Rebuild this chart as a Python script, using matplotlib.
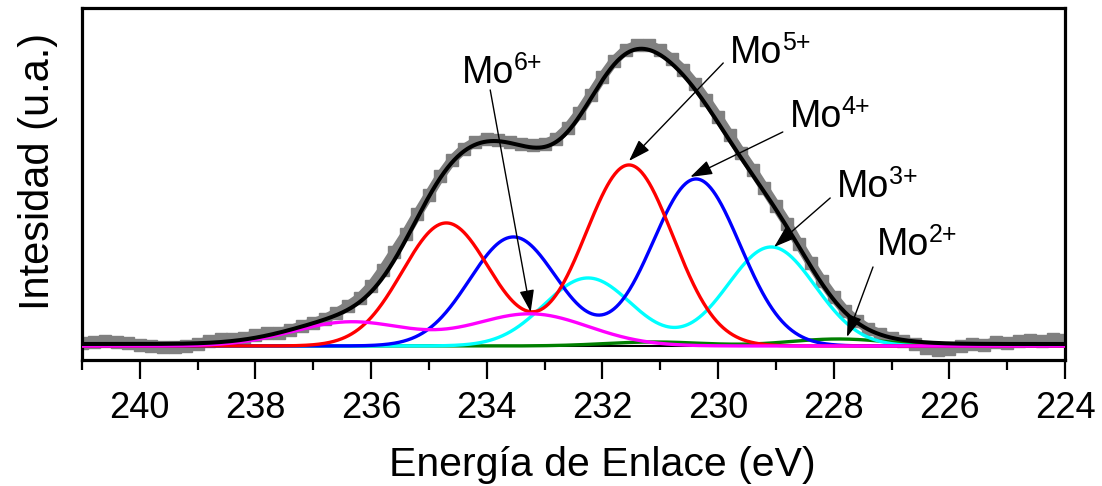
import matplotlib
matplotlib.use("Agg")
import matplotlib.pyplot as plt
import numpy as np

plt.rcParams['font.family'] = ['Liberation Sans', 'DejaVu Sans']

# espectro medido (Mo 3d), paso de 0.2 eV de 241 a 224 eV
energia = np.round(np.arange(241.0, 223.9, -0.2), 2)
intensidad = [3, 4, 5, 4, 3, 1, 0, -1, -1, 0,
              2, 5, 7, 7, 8, 11, 13, 13, 16, 20,
              23, 27, 33, 40, 48, 60, 76, 94, 112, 132,
              151, 170, 186, 197, 204, 207, 206, 204, 202, 201,
              202, 207, 218, 233, 251, 269, 285, 296, 301, 301,
              296, 287, 276, 262, 246, 229, 211, 193, 176, 158,
              140, 122, 102, 83, 65, 49, 35, 25, 17, 12,
              8, 5, 2, -2, -4, -3, 0, 2, 1, 4,
              3, 5, 6, 5, 7, 6]

# componentes del ajuste: centros (eV), alturas y sigma de cada doblete
mo6_pos = [233.24, 236.36]; mo6_amp = [32, 24]; mo6_sig = 1.0
mo5_pos = [231.54, 234.70]; mo5_amp = [181, 123]; mo5_sig = 0.76
mo4_pos = [230.38, 233.54]; mo4_amp = [167, 109]; mo4_sig = 0.76
mo3_pos = [229.08, 232.25]; mo3_amp = [99, 68]; mo3_sig = 0.76
mo2_pos = [227.92, 231.10]; mo2_amp = [7, 4]; mo2_sig = 0.85
fondo = 2

# etiquetas: carga, inicio de la flecha y posicion del texto (eV, intensidad)
cargas = ['6+', '5+', '4+', '3+', '2+']
flecha_ini = [(233.94, 256), (229.91, 283), (228.88, 214), (228.06, 148), (227.32, 79)]
texto_pos = [(234.43, 263), (229.79, 283), (228.76, 219), (227.94, 149), (227.25, 91)]


def doblete(x, pos, amp, sig):
    return sum(a * np.exp(-(x - p) ** 2 / (2 * sig ** 2)) for p, a in zip(pos, amp))


E = np.linspace(241, 224, 1200)
comps = [
    (mo2_pos, mo2_amp, mo2_sig, '#007f00'),
    (mo3_pos, mo3_amp, mo3_sig, '#00ffff'),
    (mo4_pos, mo4_amp, mo4_sig, '#0000ff'),
    (mo5_pos, mo5_amp, mo5_sig, '#ff0000'),
    (mo6_pos, mo6_amp, mo6_sig, '#ff00ff'),
]

fig = plt.figure(figsize=(11.02, 4.86), dpi=100)
ax = fig.add_axes([0.0744, 0.2593, 0.892, 0.7243])

# datos experimentales
ax.plot(energia, intensidad, color='#808080', lw=7, marker='s', ms=8,
        mec='#808080', mfc='#808080', zorder=1)

ax.plot(E, np.zeros_like(E), color='k', lw=1.5, zorder=2)
total = fondo + np.zeros_like(E)
for pos, amp, sig, c in comps:
    y = doblete(E, pos, amp, sig)
    total += y
    ax.plot(E, y, color=c, lw=2.4, zorder=3)

ax.plot(E, total, color='k', lw=2.9, zorder=4)

# picos señalados por las flechas
picos = [(mo6_pos[0], mo6_amp[0] + 2), (mo5_pos[0], mo5_amp[0] + 4),
         (mo4_pos[0] + 0.1, mo4_amp[0] + 2), (mo3_pos[0] - 0.05, mo3_amp[0]),
         (mo2_pos[0] - 0.15, mo2_amp[0] + 2)]
for q, ini, tp, pk in zip(cargas, flecha_ini, texto_pos, picos):
    ax.annotate('', xy=pk, xytext=ini,
                arrowprops=dict(arrowstyle='-|>,head_length=0.9,head_width=0.3',
                                color='k', lw=1, mutation_scale=15,
                                shrinkA=0, shrinkB=0), zorder=5)
    ax.text(tp[0], tp[1], 'Mo', fontsize=27, ha='left', va='baseline', zorder=6)
    ax.annotate(q, xy=tp, xytext=(37.5, 9.5), textcoords='offset points',
                fontsize=18, ha='left', va='baseline', zorder=6)

ax.set_xlim(241, 224)
ax.set_ylim(-14, 338)
ax.set_xticks(np.arange(240, 223, -2))
ax.set_xticks(np.arange(241, 223, -1), minor=True)
ax.set_yticks([])
ax.tick_params(axis='x', which='major', direction='out', length=14, width=1.6,
               labelsize=26, pad=8)
ax.tick_params(axis='x', which='minor', direction='out', length=7, width=1.6)
for s in ax.spines.values():
    s.set_linewidth(2.3)

ax.set_xlabel('Energía de Enlace (eV)', fontsize=29.5)
ax.xaxis.set_label_coords(0.529, -0.244)
ax.set_ylabel('Intesidad (u.a.)', fontsize=30)
ax.yaxis.set_label_coords(-0.024, 0.537)

fig.savefig("out.png", dpi=100)
